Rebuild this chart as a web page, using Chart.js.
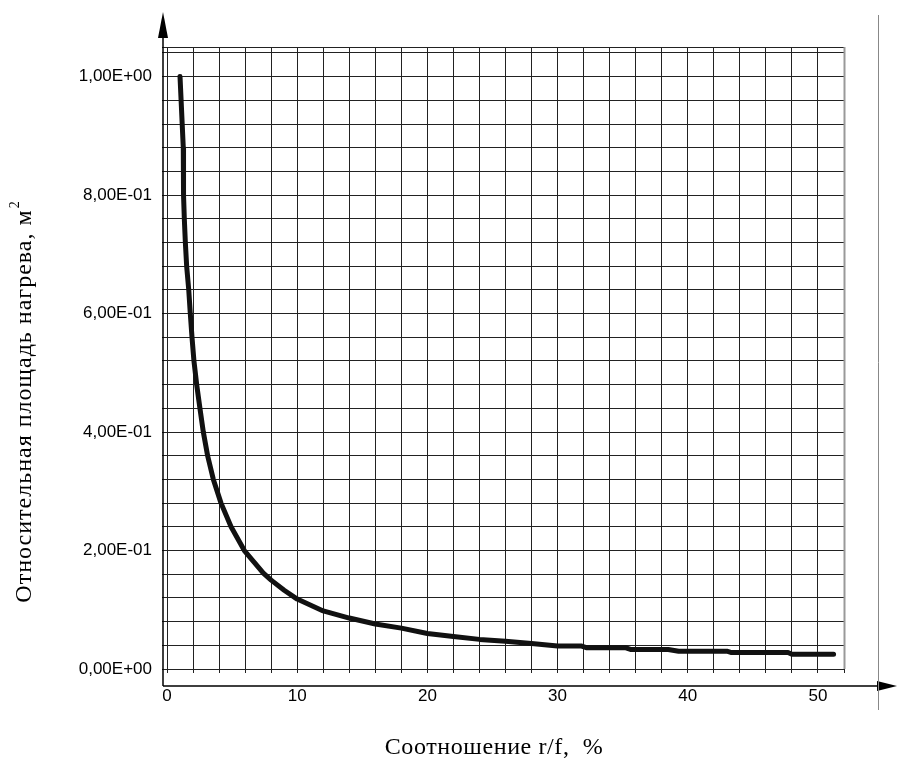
<!DOCTYPE html>
<html>
<head>
<meta charset="utf-8">
<script src="https://cdn.jsdelivr.net/npm/chart.js@4.4.1/dist/chart.umd.min.js"></script>
<style>
  html, body { margin: 0; padding: 0; background: #fff; }
  canvas { display: block; }
</style>
</head>
<body>
<canvas id="areaChart" width="898" height="762"></canvas>
<script>
// r/f ratio, %
const ratio = [1, 1.25, 1.27, 1.33, 1.41, 1.51, 1.67, 1.79, 1.92, 2.07, 2.28, 2.53, 2.79, 3.12, 3.56, 4.15, 4.92, 5.94, 7.4, 8, 9, 10, 12, 14, 16, 18, 20, 22, 24, 26, 28, 30, 31.8, 32.2, 35.2, 35.6, 38.5, 39.3, 43, 43.3, 47.7, 48, 51.2];
// relative heating area, m2
const area = [1.0, 0.88, 0.80, 0.76, 0.72, 0.68, 0.64, 0.60, 0.56, 0.52, 0.48, 0.44, 0.40, 0.36, 0.32, 0.28, 0.24, 0.20, 0.162, 0.150, 0.133, 0.118, 0.098, 0.086, 0.076, 0.069, 0.060, 0.055, 0.050, 0.047, 0.043, 0.039, 0.039, 0.036, 0.036, 0.033, 0.033, 0.030, 0.030, 0.028, 0.028, 0.025, 0.025];

const xLabels = [0, 10, 20, 30, 40, 50];
const yLabels = [0, 0.2, 0.4, 0.6, 0.8, 1.0];

const xTitle = "Соотношение r/f,  %";
const yTitle = "Относительная площадь нагрева, м";

const fmtE = v => {
  if (v === 0) return "0,00E+00";
  const e = Math.floor(Math.log10(v) + 1e-9);
  const m = v / Math.pow(10, e);
  return m.toFixed(2).replace(".", ",") + "E" + (e < 0 ? "-" : "+") + String(Math.abs(e)).padStart(2, "0");
};

const axesPlugin = {
  id: "axes",
  afterDraw(chart) {
    const ctx = chart.ctx;
    const ax = 163, ay = 686;
    ctx.save();
    ctx.strokeStyle = "#000";
    ctx.fillStyle = "#000";
    ctx.lineWidth = 1.5;
    ctx.beginPath();
    ctx.moveTo(ax, ay); ctx.lineTo(ax, 36);
    ctx.moveTo(ax, ay); ctx.lineTo(880, ay);
    ctx.stroke();
    ctx.beginPath();
    ctx.moveTo(ax, 12); ctx.lineTo(ax - 5, 38); ctx.lineTo(ax + 5, 38); ctx.closePath();
    ctx.fill();
    ctx.beginPath();
    ctx.moveTo(897, ay); ctx.lineTo(877, ay - 5); ctx.lineTo(877, ay + 5); ctx.closePath();
    ctx.fill();

    // right border of the plot, greyish like the scan
    const { right, top, bottom } = chart.chartArea;
    ctx.strokeStyle = "#999";
    ctx.lineWidth = 2;
    ctx.beginPath();
    ctx.moveTo(right + 0.5, top); ctx.lineTo(right + 0.5, bottom);
    ctx.stroke();

    ctx.strokeStyle = "#888";
    ctx.lineWidth = 1;
    ctx.beginPath();
    ctx.moveTo(878.5, 15); ctx.lineTo(878.5, 710);
    ctx.stroke();

    ctx.font = "24px 'Liberation Serif'";
    ctx.letterSpacing = "0.6px";
    ctx.textAlign = "center";
    ctx.textBaseline = "middle";
    ctx.fillText(xTitle, 494, 748);

    ctx.translate(25, 402);
    ctx.rotate(-Math.PI / 2);
    ctx.letterSpacing = "1px";
    const w = ctx.measureText(yTitle).width;
    ctx.textAlign = "left";
    ctx.fillText(yTitle, -w / 2 - 4, 0);
    ctx.letterSpacing = "0px";
    ctx.font = "14px 'Liberation Serif'";
    ctx.fillText("2", w / 2 - 3, -10);
    ctx.restore();
  }
};

new Chart(document.getElementById("areaChart"), {
  type: "scatter",
  data: {
    datasets: [{
      data: ratio.map((x, i) => ({ x, y: area[i] })),
      showLine: true,
      borderColor: "#111",
      borderWidth: 5,
      pointRadius: 0,
      tension: 0,
      borderJoinStyle: "round",
      borderCapStyle: "round"
    }]
  },
  options: {
    responsive: false,
    animation: false,
    layout: { padding: { top: 47, right: 54, left: 0, bottom: 0 } },
    plugins: { legend: { display: false }, tooltip: { enabled: false } },
    scales: {
      x: {
        type: "linear",
        min: 0,
        max: 52,
        afterFit: s => { s.height = 93; },
        ticks: {
          stepSize: 2,
          autoSkip: false,
          maxRotation: 0,
          padding: 13,
          color: "#000",
          font: { family: "'Liberation Sans'", size: 17 },
          callback: v => xLabels.includes(v) ? String(v) : ""
        },
        grid: { color: "#222", lineWidth: 1, tickLength: 4 },
        border: { color: "#222", width: 1 }
      },
      y: {
        type: "linear",
        min: 0,
        max: 1.05,
        afterFit: s => { s.width = 167; },
        afterBuildTicks: s => {
          const t = [];
          for (let i = 0; i <= 26; i++) t.push({ value: Math.round(i * 4) / 100 });
          t.push({ value: 1.05 });
          s.ticks = t;
        },
        ticks: {
          autoSkip: false,
          padding: 10,
          color: "#000",
          font: { family: "'Liberation Sans'", size: 17 },
          callback: v => yLabels.some(l => Math.abs(l - v) < 1e-6) ? fmtE(v) : ""
        },
        grid: { color: "#222", lineWidth: 1, tickLength: 5 },
        border: { color: "#222", width: 1 }
      }
    }
  },
  plugins: [axesPlugin]
});
</script>
</body>
</html>
